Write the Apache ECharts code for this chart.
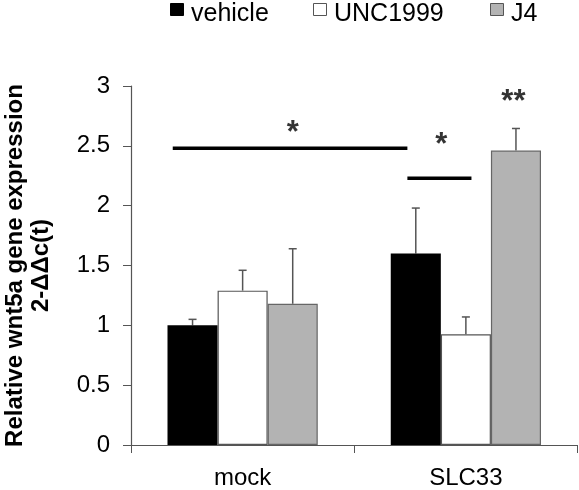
<!DOCTYPE html>
<html><head><meta charset="utf-8">
<script src="https://cdn.jsdelivr.net/npm/echarts@6/dist/echarts.min.js"></script>
<style>html,body{margin:0;padding:0;background:#fff}#c{width:579px;height:490px}</style>
</head><body><div id="c"></div>
<script>
var categories = ['mock', 'SLC33'];
var seriesNames = ['vehicle', 'UNC1999', 'J4'];
var vehicle = [1.0, 1.60];
var unc1999 = [1.29, 0.925];
var j4 = [1.18, 2.46];
var vehicleErr = [0.05, 0.38];
var unc1999Err = [0.17, 0.145];
var j4Err = [0.46, 0.185];
var yTicks = [0, 0.5, 1, 1.5, 2, 2.5, 3];
// significance annotations: [xStart, xEnd, y] in category units (0..2)
var sigLines = [[0.187, 1.238, 2.48], [1.238, 1.525, 2.23]];
var sigStars = [[0.725, 2.6, '*'], [1.39, 2.5, '*'], [1.713, 2.86, '**']];

var values = [vehicle, unc1999, j4];
var errs = [vehicleErr, unc1999Err, j4Err];
var colors = ['#000000', '#ffffff', '#b3b3b3'];
var borders = ['#000000', '#555555', '#666666'];
var gapRatio = 0.327;
var FONT = 'Liberation Sans, Arial, sans-serif';

var chart = echarts.init(document.getElementById('c'));
var series = [];
seriesNames.forEach(function (n, i) {
  series.push({
    name: n, type: 'bar', data: values[i], barGap: 0, barCategoryGap: (gapRatio * 100) + '%',
    itemStyle: { color: colors[i], borderColor: borders[i], borderWidth: i === 0 ? 0 : 1.2 },
    emphasis: { disabled: true }
  });
});
var errData = [];
for (var s = 0; s < 3; s++) for (var c = 0; c < categories.length; c++) errData.push([c, values[s][c], errs[s][c], s]);
series.push({
  type: 'custom', silent: true, z: 1,
  data: errData, encode: { x: 0, y: 1 },
  renderItem: function (params, api) {
    var c = api.value(0), v = api.value(1), e = api.value(2), s = api.value(3);
    var catW = api.size([1, 0])[0];
    var barW = catW * (1 - gapRatio) / 3;
    var base = api.coord([c, v]);
    var x = base[0] + (s - 1) * barW;
    var top = api.coord([c, v + e])[1];
    var st = { stroke: '#555', lineWidth: 1.5 };
    return { type: 'group', children: [
      { type: 'line', shape: { x1: x, y1: base[1], x2: x, y2: top }, style: st },
      { type: 'line', shape: { x1: x - 4, y1: top, x2: x + 4, y2: top }, style: st }
    ] };
  }
});
sigLines.forEach(function (l) {
  series.push({
    type: 'line', xAxisIndex: 1, data: [[l[0], l[2]], [l[1], l[2]]], symbol: 'none', silent: true,
    lineStyle: { color: '#000', width: 3.5 }, z: 5
  });
});
series.push({
  type: 'scatter', xAxisIndex: 1, symbolSize: 1, silent: true, itemStyle: { color: 'transparent' },
  data: sigStars.map(function (d) { return { value: [d[0], d[1]], label: { formatter: d[2] } }; }),
  label: { show: true, position: 'inside', fontSize: 31, fontWeight: 'bold', color: '#000', fontFamily: FONT }
});

// legend drawn as graphic (icon sits higher than text centre in the reference)
var legendX = [170, 313, 490];
var legendGraphics = [];
seriesNames.forEach(function (n, i) {
  legendGraphics.push({
    type: 'rect', left: legendX[i], top: 3, shape: { width: 13, height: 12 },
    style: { fill: colors[i], stroke: i === 0 ? '#000' : '#555', lineWidth: 1 }
  });
  legendGraphics.push({
    type: 'text', left: legendX[i] + 21, top: 2,
    style: { text: n, fontSize: 25, fill: '#000', fontFamily: FONT }
  });
});

chart.setOption({
  animation: false,
  textStyle: { fontFamily: FONT },
  graphic: legendGraphics,
  grid: { left: 131, right: 1.5, top: 86, bottom: 45, containLabel: false, outerBoundsMode: 'none' },
  xAxis: [{
    type: 'category', data: categories,
    axisLine: { lineStyle: { color: '#555', width: 1.2 } },
    axisTick: { show: true, length: 8, lineStyle: { color: '#555' }, alignWithLabel: false },
    axisLabel: { fontSize: 24, color: '#000', margin: 21 }
  }, {
    type: 'value', min: 0, max: 2, show: false
  }],
  yAxis: {
    type: 'value', min: 0, max: 3, interval: 0.5,
    axisLine: { show: true, lineStyle: { color: '#555', width: 1.2 } },
    axisTick: { show: true, length: 8, lineStyle: { color: '#555' } },
    splitLine: { show: false },
    axisLabel: { fontSize: 24, color: '#000', margin: 21, formatter: function (v) { return String(v); } },
    name: 'Relative wnt5a gene expression\n2-ΔΔc(t)', nameLocation: 'middle', nameGap: 77,
    nameTextStyle: { fontSize: 24, fontWeight: 'bold', color: '#000', lineHeight: 26 }
  },
  series: series
});
</script></body></html>
